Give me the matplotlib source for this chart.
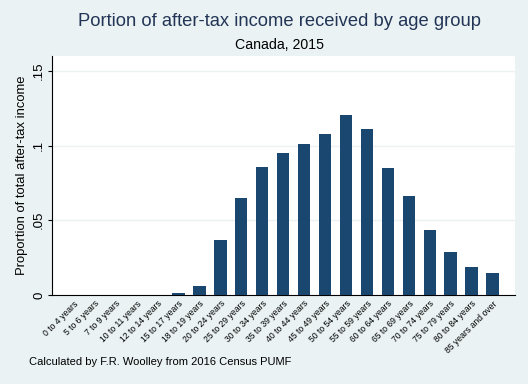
import matplotlib.pyplot as plt
import numpy as np

plt.rcParams['font.family'] = ['Liberation Sans', 'DejaVu Sans']

age_groups = ['0 to 4 years', '5 to 6 years', '7 to 9 years', '10 to 11 years',
              '12 to 14 years', '15 to 17 years', '18 to 19 years', '20 to 24 years',
              '25 to 29 years', '30 to 34 years', '35 to 39 years', '40 to 44 years',
              '45 to 49 years', '50 to 54 years', '55 to 59 years', '60 to 64 years',
              '65 to 69 years', '70 to 74 years', '75 to 79 years', '80 to 84 years',
              '85 years and over']
share = [0, 0, 0, 0, 0, 0.0013, 0.006, 0.037, 0.0646, 0.0857, 0.095, 0.1011,
         0.1076, 0.1202, 0.1113, 0.0852, 0.0664, 0.0438, 0.0286, 0.0188, 0.0146]

yticks = [0, 0.05, 0.1, 0.15]
ytick_labels = ['0', '.05', '.1', '.15']

bg = '#EAF2F3'
navy = '#1a476f'

fig = plt.figure(figsize=(5.28, 3.84), dpi=100, facecolor=bg)
ax = fig.add_axes([0.0985, 0.232, 0.877, 0.622])
ax.set_facecolor('white')

x = np.arange(len(age_groups))
ax.bar(x, share, width=0.6, color=navy, zorder=3)

ax.set_xlim(-1.03, len(age_groups) - 1 + 1.07)
ax.set_ylim(0, 0.16)
ax.set_yticks(yticks)
ax.set_yticklabels(ytick_labels, rotation=90, va='center', fontsize=9.5)
ax.set_xticks(x)
ax.set_xticklabels(age_groups, rotation=45, ha='right', va='top',
                   rotation_mode='anchor', fontsize=6.2)
ax.tick_params(axis='x', length=0, pad=3)
ax.tick_params(axis='y', length=3, pad=2, width=0.8)
for t in yticks[1:]:
    ax.axhline(t, color=bg, lw=1, zorder=1)

for s in ['top', 'right']:
    ax.spines[s].set_visible(False)
for s in ['left', 'bottom']:
    ax.spines[s].set_linewidth(0.8)
    ax.spines[s].set_color('black')

ax.set_ylabel('Proportion of total after-tax income', fontsize=9.4, labelpad=4)

fig.text(0.53, 0.943, 'Portion of after-tax income received by age group',
         ha='center', va='center', fontsize=13.2, color='#233556')
fig.text(0.53, 0.883, 'Canada, 2015', ha='center', va='center', fontsize=10.2)
fig.text(0.055, 0.058, 'Calculated by F.R. Woolley from 2016 Census PUMF',
         ha='left', va='center', fontsize=8)

fig.savefig('out.png', dpi=100, facecolor=bg)
